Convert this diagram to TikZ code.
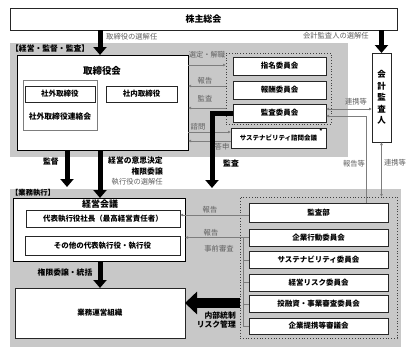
\documentclass[tikz,border=0pt]{standalone}
\usepackage{fontspec}
\setmainfont{Noto Sans CJK JP}
\usetikzlibrary{arrows.meta,calc}
\definecolor{bg}{RGB}{200,200,200}
\definecolor{ln}{RGB}{125,125,125}
\definecolor{lbl}{RGB}{95,95,95}
\tikzset{
  region/.style={fill=bg, draw=none, inner sep=0pt, outer sep=0pt},
  box/.style={draw=black!85, line width=0.7pt, fill=white, inner sep=0pt, outer sep=0pt,
    font=\bfseries\fontsize{7.5}{8}\selectfont},
  bigbox/.style={draw=black, line width=1pt, fill=white, inner sep=0pt, outer sep=0pt},
  dotbox/.style={draw=black!75, dotted, line width=0.8pt, inner sep=0pt, outer sep=0pt},
  lab/.style={text=lbl, inner sep=0pt, font=\fontsize{7.3}{8}\selectfont},
  blab/.style={inner sep=0pt, font=\bfseries\fontsize{7.8}{8}\selectfont},
  tarr/.style={draw=ln, line width=0.6pt, -{Latex[length=3pt,width=3pt]}},
  tarrb/.style={draw=ln, line width=0.6pt, {Latex[length=3pt,width=3pt]}-{Latex[length=3pt,width=3pt]}},
  tline/.style={draw=ln, line width=0.6pt},
  fat/.style={line width=5pt, -{Triangle[length=8pt,width=13pt]}},
  fatter/.style={line width=10pt, -{Triangle[length=12pt,width=22pt]}},
}
\begin{document}
\begin{tikzpicture}[x=1pt,y=-1pt]
\useasboundingbox (0,0) rectangle (408,351);
\fill[white] (0,0) rectangle (408,351);

% regions
\node[region, minimum width=338pt, minimum height=114pt] (g1) at (179,100) {};
\node[region, minimum width=391pt, minimum height=158pt] (g2) at (205.5,268) {};

% top
\node[box, minimum width=387pt, minimum height=22pt, font=\bfseries\fontsize{9}{10}\selectfont] (kabu) at (203.5,19) {株主総会};

% board
\node[bigbox, minimum width=171pt, minimum height=95pt] (tb) at (102.5,102.5) {};
\node[blab, font=\bfseries\fontsize{9.5}{10}\selectfont] (tbt) at (102,71) {取締役会};
\node[draw=ln, line width=0.6pt, inner sep=0pt, minimum width=74pt, minimum height=50pt] (grp) at (60,105) {};
\node[box, minimum width=70pt, minimum height=16pt] (shagai) at (60,94) {社外取締役};
\node[blab] (renraku) at (60,117) {社外取締役連絡会};
\node[box, minimum width=71pt, minimum height=16pt] (shanai) at (141.5,94) {社内取締役};

% committees
\node[dotbox, minimum width=105pt, minimum height=71pt] (cm) at (278.5,88.5) {};
\node[box, minimum width=93pt, minimum height=18pt] (shimei) at (279.5,66) {指名委員会};
\node[box, minimum width=93pt, minimum height=18pt] (hoshu) at (279.5,90) {報酬委員会};
\node[box, minimum width=93pt, minimum height=18pt] (kansa) at (279.5,113) {監査委員会};
\node[box, minimum width=95pt, minimum height=20pt, font=\bfseries\fontsize{6.5}{7}\selectfont] (shimon) at (278.5,138) {サステナビリティ諮問会議};
\node[inner sep=0pt, font=\bfseries\fontsize{6}{6}\selectfont] (ast) at (321,131) {*};

% auditor
\node[box, minimum width=19pt, minimum height=89pt, align=center, font=\bfseries\fontsize{8.5}{11.5}\selectfont] (kaikei) at (381.5,97.5) {会\\計\\監\\査\\人};

% execution
\node[bigbox, minimum width=172pt, minimum height=63pt] (km) at (99,229.5) {};
\node[blab, font=\bfseries\fontsize{9}{10}\selectfont] (kmt) at (100,204) {経営会議};
\node[box, minimum width=154pt, minimum height=17pt] (daihyo) at (103,218.5) {代表執行役社長（最高経営責任者）};
\node[box, minimum width=155pt, minimum height=19pt] (sonota) at (102.5,245.5) {その他の代表執行役・執行役};
\node[box, minimum width=170pt, minimum height=50pt] (gyomu) at (100,313) {業務運営組織};

% lower committees
\node[dotbox, minimum width=157pt, minimum height=141pt] (dot2) at (318.5,267.5) {};
\node[box, minimum width=139pt, minimum height=19pt] (kansabu) at (318.5,212.5) {監査部};
\node[box, minimum width=139pt, minimum height=17pt] (kigyo) at (318.5,237.5) {企業行動委員会};
\node[box, minimum width=139pt, minimum height=17pt] (sus) at (318.5,260) {サステナビリティ委員会};
\node[box, minimum width=139pt, minimum height=17pt] (risk) at (318.5,282.5) {経営リスク委員会};
\node[box, minimum width=139pt, minimum height=17pt] (toyu) at (318.5,304) {投融資・事業審査委員会};
\node[box, minimum width=139pt, minimum height=16pt] (teikei) at (318.5,326) {企業提携等審議会};

% thin connectors
\draw[tarr] (tb.east |- 0,65) -- (cm.west |- 0,65);
\draw[tarr] (cm.west |- 0,86) -- (tb.east |- 0,86);
\draw[tarr] (cm.west |- 0,108) -- (tb.east |- 0,108);
\draw[tarr] (tb.east |- 0,132) -- (shimon.west |- 0,132);
\draw[tarr] (shimon.west |- 0,141) -- (tb.east |- 0,141);
\draw[tarrb] (kansa.east |- 0,109) -- (kaikei.west |- 0,109);
\draw[tarr] (kansabu.north -| 366,0) |- (kansa.east |- 0,116);
\draw[tarrb] (kaikei.south) -- (dot2.north -| kaikei.south);
\draw[tarr] (kansabu.west |- 0,215) -- (daihyo.east |- 0,215);
\draw[tarr] (kigyo.west) -- (km.east |- kigyo.west);
\coordinate (trtop) at (243,0 |- kigyo.west);
\coordinate (trbot) at (243,0 |- teikei.west);
\draw[tline] (trtop) -- (trbot);
\draw[tline] (243,0 |- sus.west) -- (sus.west);
\draw[tline] (243,0 |- risk.west) -- (risk.west);
\draw[tline] (243,0 |- toyu.west) -- (toyu.west);
\draw[tline] (trbot) -- (teikei.west);

% thick connectors
\draw[fat] (kabu.south -| 100,0) -- (tb.north -| 100,0);
\draw[fat] (kabu.south -| kaikei.north) -- (kaikei.north);
\draw[fat, shorten >=2pt] (tb.south -| 67,0) -- (g2.north -| 67,0);
\draw[fat] (tb.south -| 100,0) -- (km.north -| 100,0);
\draw[fat, shorten >=1pt] (kansa.west) -| (g2.north -| 212,0);
\draw[fat] (km.south -| 100,0) -- (gyomu.north -| 100,0);
\draw[fatter] (dot2.west |- 0,303) -- (gyomu.east |- 0,303);

% labels
\node[lab, anchor=west] (l1) at (106,37) {取締役の選解任};
\node[lab, anchor=east] (l2) at (369,36) {会計監査人の選解任};
\node[blab, anchor=west] (l3) at (11,49) {【経営・監督・監査】};
\node[lab] (l4) at (207,55) {選定・解職};
\node[lab] (l5) at (205,81) {報告};
\node[lab] (l6) at (205,99) {監査};
\node[lab] (l7) at (198,127) {諮問};
\node[lab] (l8) at (222,147) {答申};
\node[blab] (l9) at (231,163) {監査};
\node[lab] (l10) at (354,164) {報告等};
\node[lab] (l11) at (356,102) {連携等};
\node[lab] (l12) at (395,163) {連携等};
\node[blab] (l13) at (51,162) {監督};
\node[blab, anchor=east] (l14) at (163,161) {経営の意思決定};
\node[blab, anchor=east] (l15) at (163,172) {権限委譲};
\node[lab, anchor=east] (l16) at (163,182) {執行役の選解任};
\node[blab, anchor=west, font=\bfseries\fontsize{7.3}{8}\selectfont] (l17) at (11,193) {【業務執行】};
\node[blab] (l18) at (65,273) {権限委譲・統括};
\node[lab] (l19) at (210,210) {報告};
\node[lab] (l20) at (211,233) {報告};
\node[lab] (l21) at (219,249) {事前審査};
\node[blab, anchor=east] (l22) at (236,316) {内部統制};
\node[blab, anchor=east] (l23) at (236,325) {リスク管理};
\end{tikzpicture}
\end{document}
